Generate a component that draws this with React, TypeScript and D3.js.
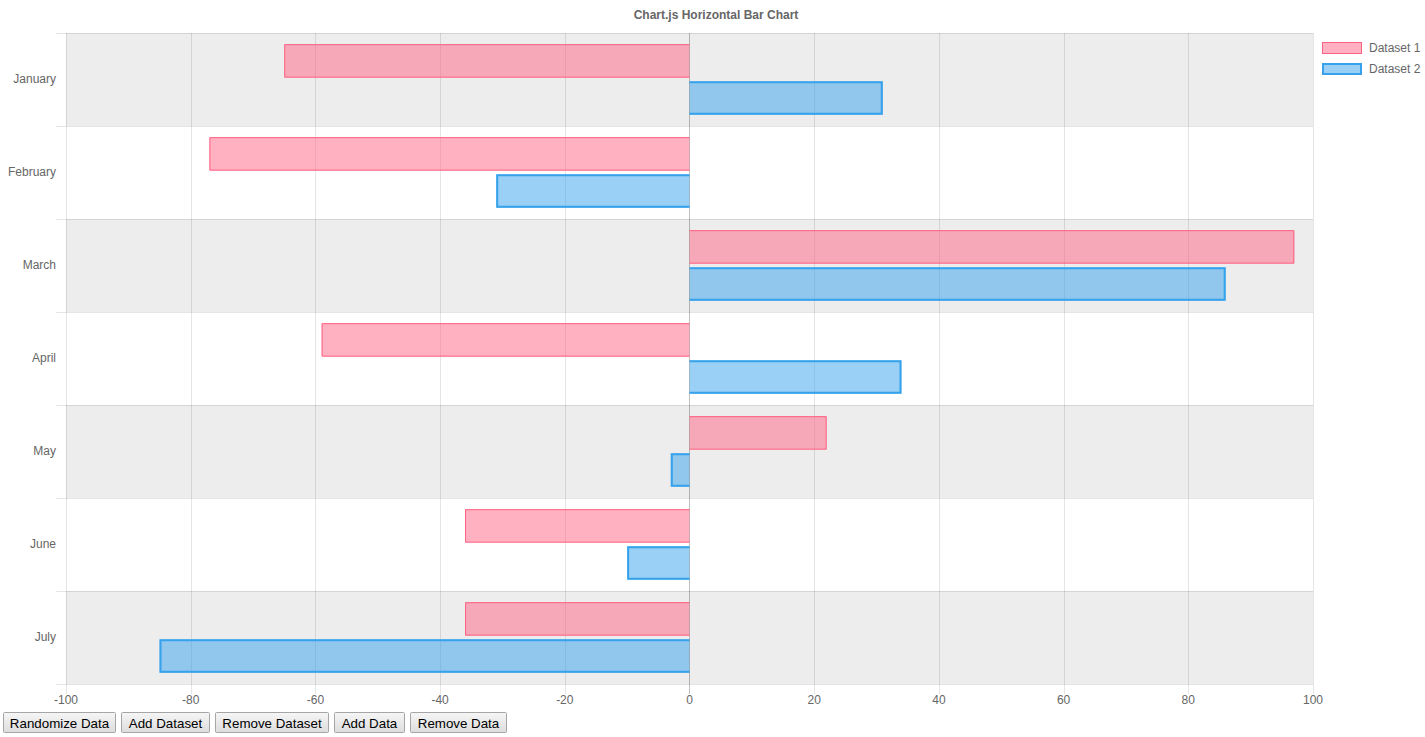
import React from "react";
import * as d3 from "d3";

const categories = ["January", "February", "March", "April", "May", "June", "July"];
const dataset1 = [-65, -77, 97, -59, 22, -36, -36];
const dataset2 = [31, -31, 86, 34, -3, -10, -85];
const seriesNames = ["Dataset 1", "Dataset 2"];
const xTicks = [-100, -80, -60, -40, -20, 0, 20, 40, 60, 80, 100];
const buttonLabels = ["Randomize Data", "Add Dataset", "Remove Dataset", "Add Data", "Remove Data"];
const buttonWidths = [113, 89, 114, 71, 97];

const W = 1425;
const H = 737;
const left = 66;
const right = 1313;
const top = 33;
const bottom = 684;
const FONT = "'Liberation Sans', Arial, Helvetica, sans-serif";

const series = [
  { name: seriesNames[0], values: dataset1, fill: "rgba(255,99,132,0.5)", stroke: "rgb(255,99,132)", sw: 1 },
  { name: seriesNames[1], values: dataset2, fill: "rgba(54,162,235,0.5)", stroke: "rgb(54,162,235)", sw: 2 },
];

const px = (v: number) => Math.round(v - 0.01) + 0.5;

export default function App() {
  const x = d3.scaleLinear().domain([-100, 100]).range([left, right]);
  const y = d3.scaleBand<string>().domain(categories).range([top, bottom]);
  const inner = d3
    .scaleBand<number>()
    .domain([0, 1])
    .range([0, y.bandwidth() * 0.8]);
  const catOffset = y.bandwidth() * 0.1;
  const barH = inner.bandwidth() * 0.9;
  const barPad = inner.bandwidth() * 0.05;
  const zeroX = px(x(0));

  let bx = 3;
  const buttons = buttonLabels.map((label, i) => {
    const b = { label, x: bx, w: buttonWidths[i] };
    bx += buttonWidths[i] + 5;
    return b;
  });

  return (
    <svg
      width={W}
      height={H}
      style={{ position: "absolute", left: 0, top: 0, background: "#fff" }}
      fontFamily={FONT}
    >
      <defs>
        <linearGradient id="btn" x1="0" y1="0" x2="0" y2="1">
          <stop offset="0" stopColor="#f6f6f6" />
          <stop offset="1" stopColor="#dddddd" />
        </linearGradient>
      </defs>
      {/* alternating row backgrounds */}
      {categories.map((c, i) =>
        i % 2 === 0 ? (
          <rect key={c} x={left} y={y(c)!} width={right - left} height={y.bandwidth()} fill="#ededed" />
        ) : null
      )}
      {/* vertical grid */}
      {xTicks.map((t) => (
        <line
          key={t}
          x1={px(x(t))}
          x2={px(x(t))}
          y1={top}
          y2={bottom + 10}
          stroke={t === 0 ? "rgba(0,0,0,0.25)" : "rgba(0,0,0,0.1)"}
        />
      ))}
      {/* horizontal grid */}
      {categories.concat(["__end"]).map((c, i) => {
        const yy = px(top + i * y.bandwidth());
        return (
          <line key={c} x1={left - 10} x2={right} y1={yy} y2={yy} stroke="rgba(0,0,0,0.1)" />
        );
      })}
      {/* bars */}
      {series.map((s, si) =>
        categories.map((c, ci) => {
          const v = s.values[ci];
          const xv = x(v);
          const yy = y(c)! + catOffset + inner(si)! + barPad;
          const h = s.sw / 2;
          const dir = v < 0 ? -1 : 1;
          const xe = xv - dir * h;
          const y0 = yy + h;
          const y1 = yy + barH - h;
          const path = `M${zeroX},${y0}L${xe},${y0}L${xe},${y1}L${zeroX},${y1}`;
          return (
            <g key={`${si}-${c}`}>
              <rect
                x={Math.min(zeroX, xv)}
                y={yy}
                width={Math.abs(xv - zeroX)}
                height={barH}
                fill={s.fill}
              />
              <path d={path} fill="none" stroke={s.stroke} strokeWidth={s.sw} />
            </g>
          );
        })
      )}
      {/* y labels */}
      {categories.map((c) => (
        <text
          key={c}
          x={56}
          y={y(c)! + y.bandwidth() / 2 - 1}
          textAnchor="end"
          dominantBaseline="central"
          fontSize={12}
          fill="#666"
        >
          {c}
        </text>
      ))}
      {/* x labels */}
      {xTicks.map((t) => (
        <text key={t} x={x(t)} y={700} textAnchor="middle" dominantBaseline="central" fontSize={12} fill="#666">
          {t}
        </text>
      ))}
      {/* title */}
      <text x={716} y={15} textAnchor="middle" dominantBaseline="central" fontSize={12} fontWeight="bold" fill="#666">
        Chart.js Horizontal Bar Chart
      </text>
      {/* legend */}
      {series.map((s, i) => (
        <g key={s.name}>
          <rect x={1322} y={42 + i * 21} width={40} height={12} fill={s.fill} />
          <rect
            x={1322 + s.sw / 2}
            y={42 + i * 21 + s.sw / 2}
            width={40 - s.sw}
            height={12 - s.sw}
            fill="none"
            stroke={s.stroke}
            strokeWidth={s.sw}
          />
          <text x={1369} y={48 + i * 21} dominantBaseline="central" fontSize={12} fill="#666">
            {s.name}
          </text>
        </g>
      ))}
      {/* buttons */}
      {buttons.map((b) => (
        <g key={b.label}>
          <rect x={b.x + 0.5} y={712.5} width={b.w - 1} height={20} rx={1} fill="url(#btn)" stroke="#a6a6a6" />
          <text
            x={b.x + b.w / 2}
            y={723}
            textAnchor="middle"
            dominantBaseline="central"
            fontSize={13.33}
            fill="#000"
          >
            {b.label}
          </text>
        </g>
      ))}
    </svg>
  );
}
